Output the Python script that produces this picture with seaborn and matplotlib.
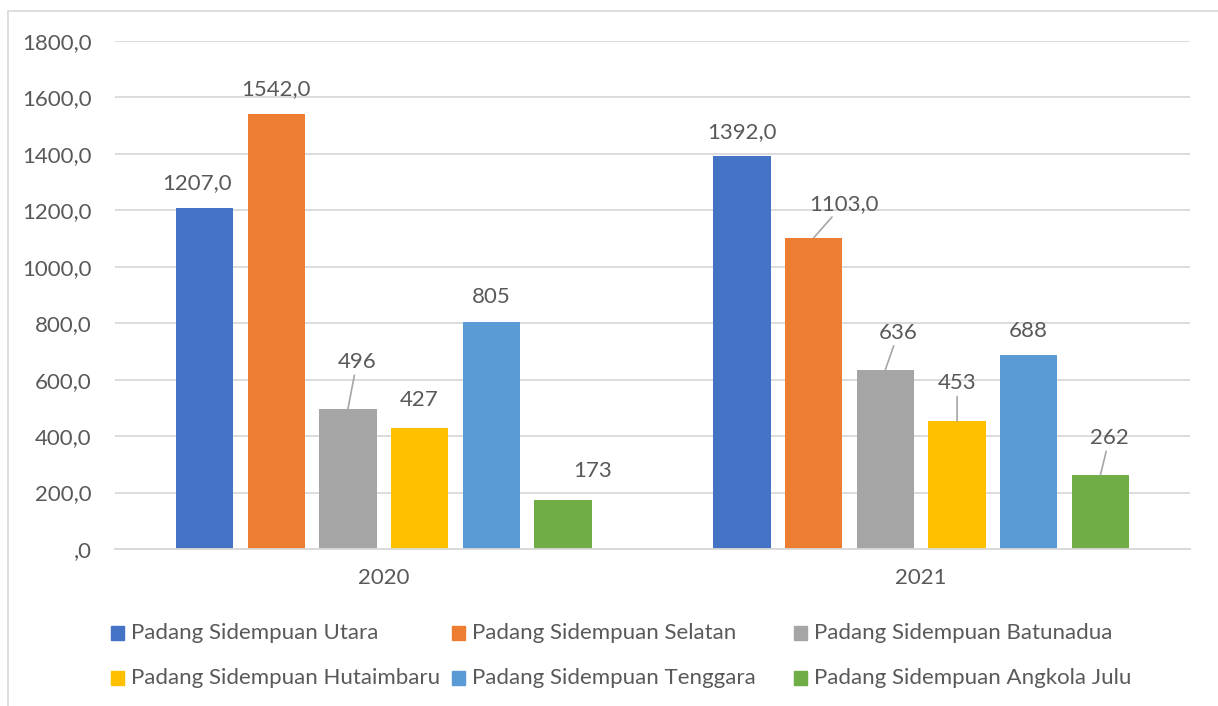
#!/usr/bin/env python3
"""Clustered bar chart: Padang Sidempuan districts, 2020 vs 2021."""

import pandas as pd
import matplotlib
matplotlib.use("Agg")
import matplotlib.pyplot as plt
from matplotlib.patches import Rectangle
from matplotlib.ticker import FuncFormatter
import seaborn as sns

# data
years = ["2020", "2021"]
districts = [
    "Padang Sidempuan Utara",
    "Padang Sidempuan Selatan",
    "Padang Sidempuan Batunadua",
    "Padang Sidempuan Hutaimbaru",
    "Padang Sidempuan Tenggara",
    "Padang Sidempuan Angkola Julu",
]
values_2020 = [1207, 1542, 496, 427, 805, 173]
values_2021 = [1392, 1103, 636, 453, 688, 262]

colors = ["#4472C4", "#ED7D31", "#A5A5A5", "#FFC000", "#5B9BD5", "#70AD47"]
TEXT = "#595959"
GRID = "#D9D9D9"

# label offsets in pixels (dx, dy) from the bar top, and whether a leader line is drawn
label_style = {
    ("2020", 0): (-8, 25, False), ("2020", 1): (0, 25, False),
    ("2020", 2): (9, 47, True), ("2020", 3): (0, 28, False),
    ("2020", 4): (0, 25, False), ("2020", 5): (30, 29, False),
    ("2021", 0): (0, 24, False), ("2021", 1): (30, 34, True),
    ("2021", 2): (13, 37, True), ("2021", 3): (0, 38, True),
    ("2021", 4): (0, 24, False), ("2021", 5): (9, 37, True),
}

df = pd.DataFrame({
    "year": [y for y in years for _ in districts],
    "district": districts * 2,
    "value": values_2020 + values_2021,
})

sns.set_theme(style="white")
plt.rcParams["font.family"] = ["Lato", "DejaVu Sans"]
FS = 16

W, H = 1218, 706
fig = plt.figure(figsize=(W / 100, H / 100), dpi=100)
ax = fig.add_axes([115 / W, 157 / H, 1075 / W, 508 / H])

sns.barplot(data=df, x="year", y="value", hue="district", hue_order=districts,
            order=years, palette=colors, saturation=1, width=0.8, gap=0.2,
            linewidth=0, legend=False, ax=ax)

ax.set_xlim(-0.5, 1.5)
ax.set_ylim(0, 1800)
ax.set_yticks(range(0, 1801, 200))


def fmt(v, _pos=None):
    s = f"{v:.1f}".replace(".", ",")
    return s[1:] if s.startswith("0,") else s


ax.yaxis.set_major_formatter(FuncFormatter(fmt))
ax.grid(axis="y", color=GRID, linewidth=1.3)
ax.set_axisbelow(True)
for side in ["top", "right", "left"]:
    ax.spines[side].set_visible(False)
ax.spines["bottom"].set_color(GRID)
ax.spines["bottom"].set_linewidth(1.3)
ax.tick_params(axis="y", length=0, pad=17, labelsize=FS, labelcolor=TEXT)
ax.tick_params(axis="x", length=0, pad=14, labelsize=FS, labelcolor=TEXT)
ax.set_xlabel("")
ax.set_ylabel("")

# data labels
for i, cont in enumerate(ax.containers):
    for j, bar in enumerate(cont):
        v = bar.get_height()
        text = fmt(v) if v >= 1000 else f"{v:.0f}"
        dx, dy, leader = label_style[(years[j], i)]
        xy = (bar.get_x() + bar.get_width() / 2, v)
        kw = {}
        if leader:
            kw["arrowprops"] = dict(arrowstyle="-", color="#A6A6A6", lw=1.2,
                                    shrinkA=0, shrinkB=0)
        ax.annotate(text, xy=xy, xytext=(dx, dy), textcoords="offset pixels",
                    ha="center", va="center", fontsize=FS, color=TEXT,
                    annotation_clip=False, **kw)

# legend, Excel-style grid of 3 columns x 2 rows
leg_x = [111, 452, 794]
leg_y = [633, 678]
for k, name in enumerate(districts):
    cx = leg_x[k % 3]
    cy = leg_y[k // 3]
    fig.patches.append(Rectangle((cx / W, (H - cy - 7) / H), 13 / W, 14 / H,
                                 transform=fig.transFigure, color=colors[k]))
    fig.text((cx + 20) / W, (H - cy) / H, name, ha="left", va="center",
             fontsize=FS, color=TEXT)

# chart area border
fig.patches.append(Rectangle((8 / W, -0.05), 1.1, (H - 11) / H + 0.05,
                             transform=fig.transFigure, fill=False,
                             edgecolor=GRID, linewidth=1.2))

fig.savefig("out.png", dpi=100)
